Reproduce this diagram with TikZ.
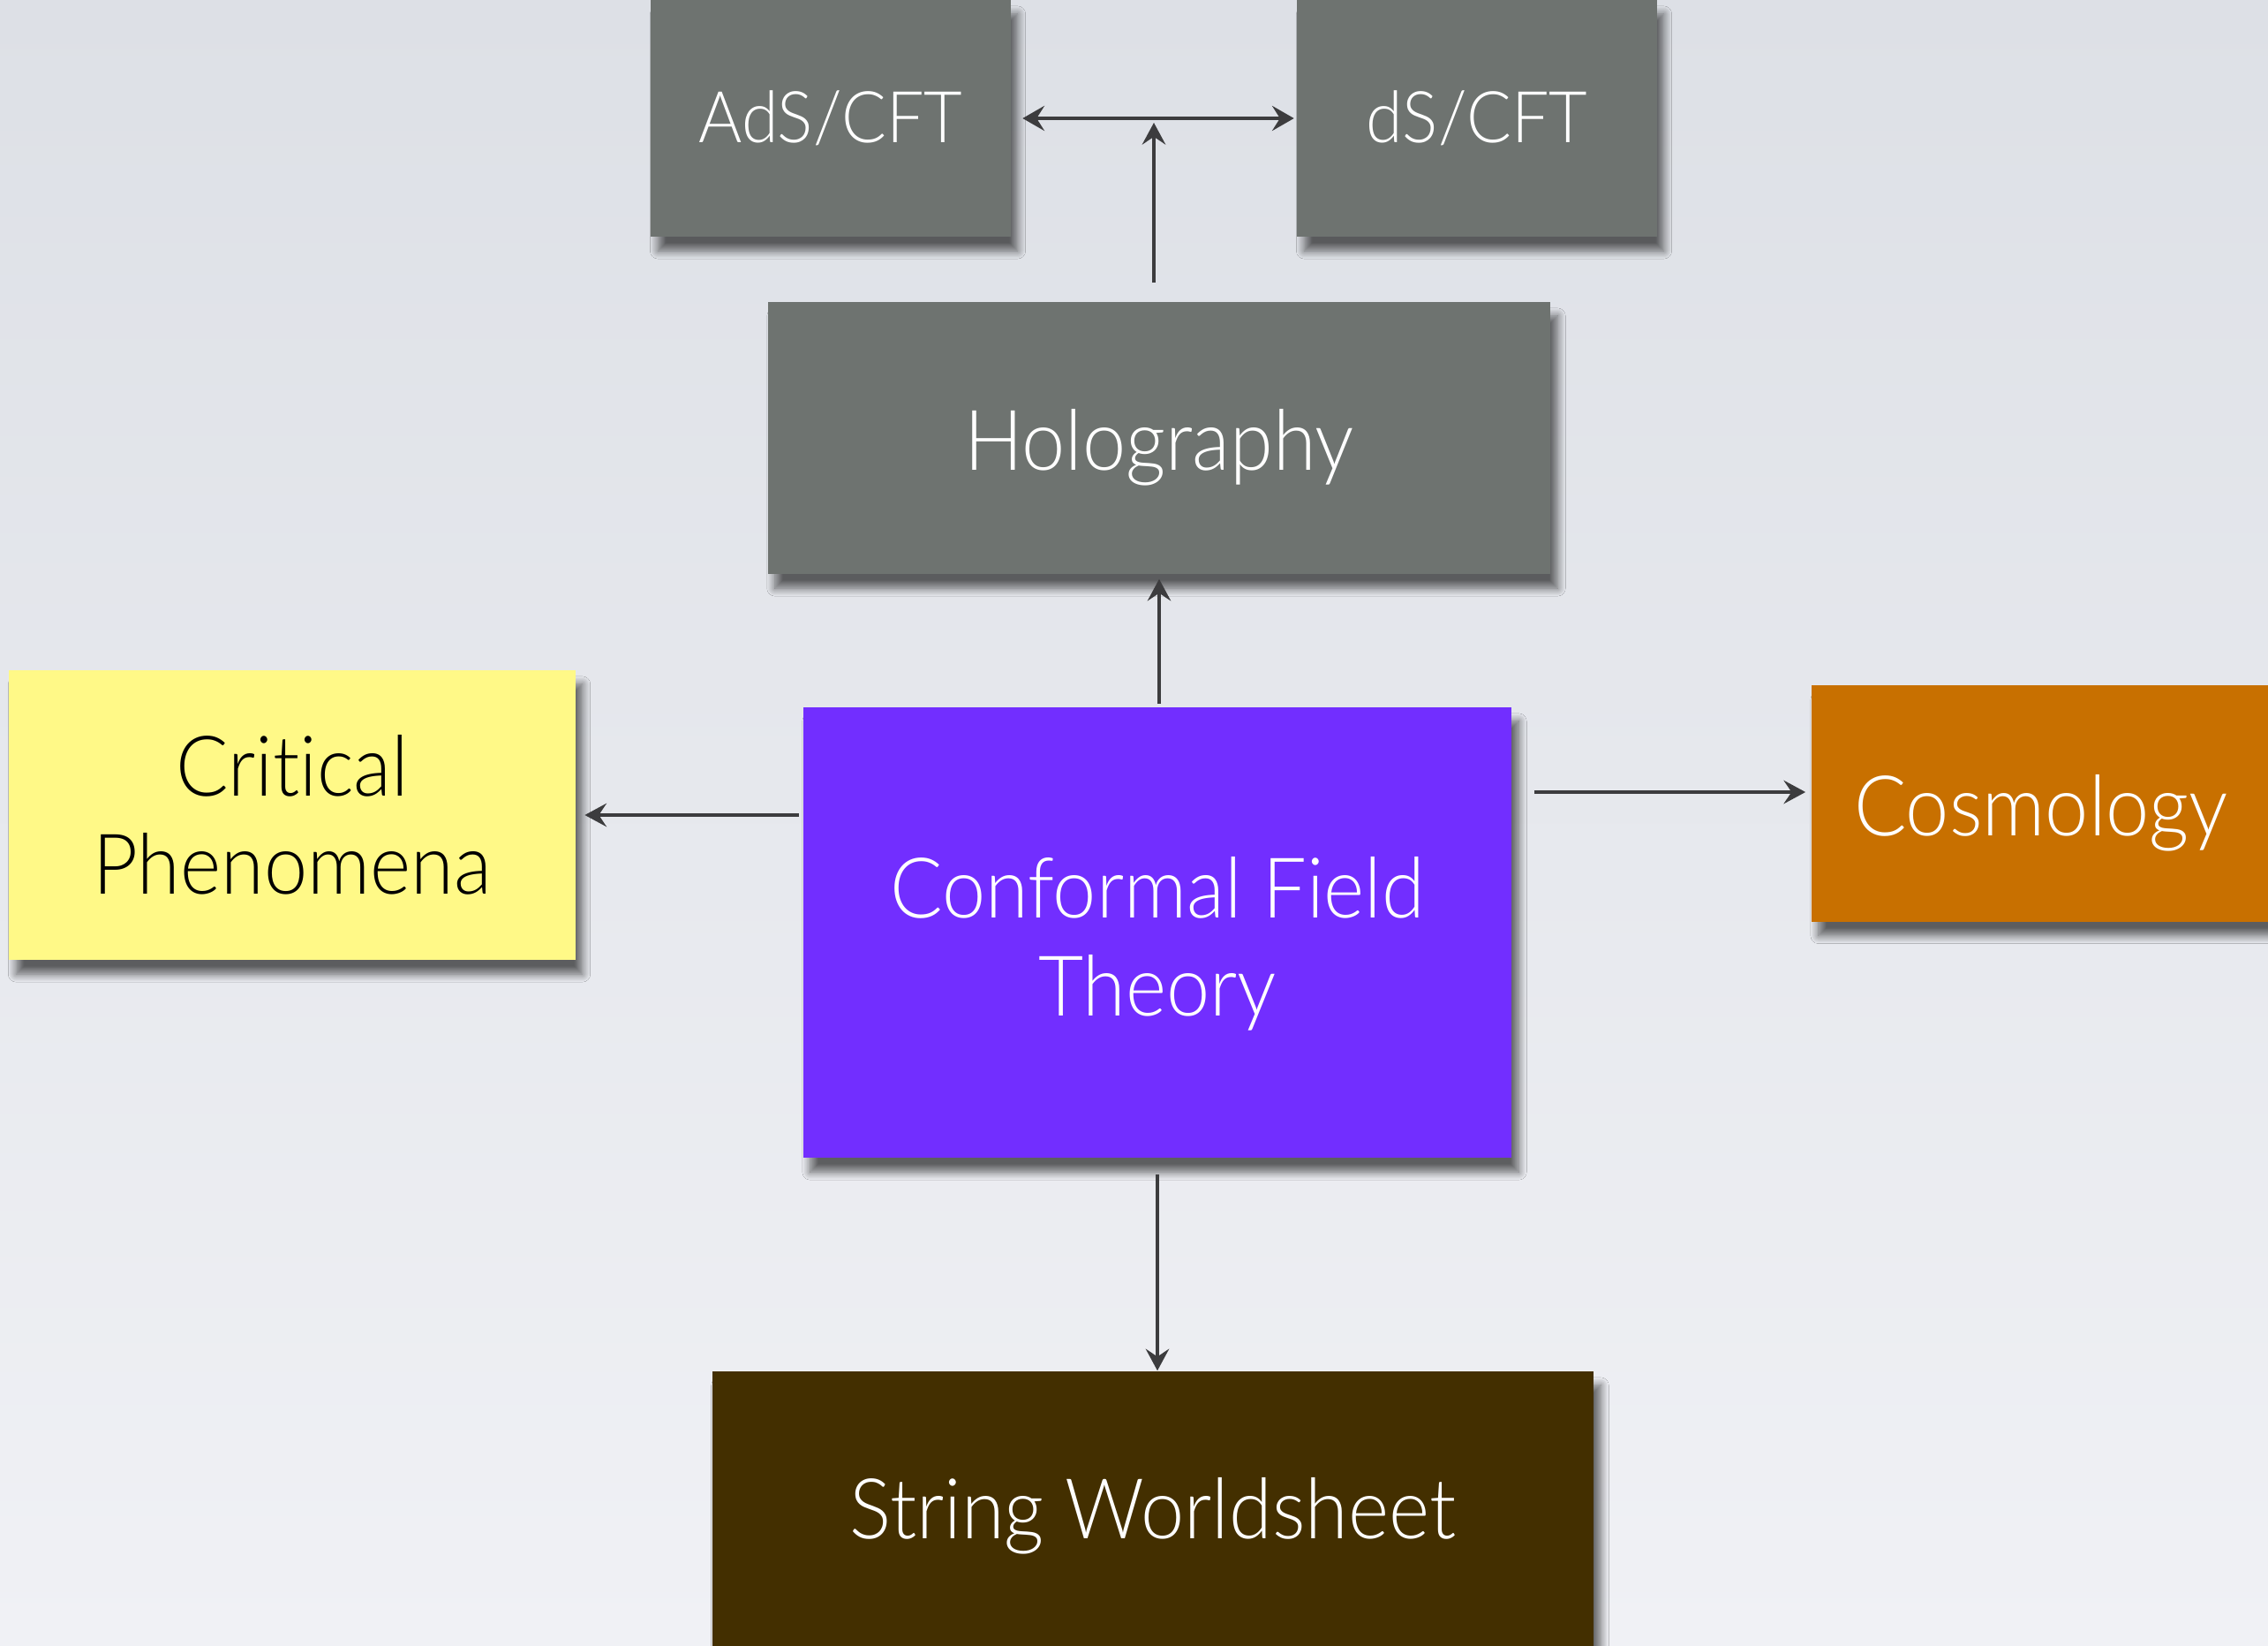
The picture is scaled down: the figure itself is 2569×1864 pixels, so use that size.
\documentclass[tikz,border=0pt]{standalone}
\usepackage{fontspec}
\setmainfont{Lato Light}[FakeStretch=0.93, Ligatures=NoCommon]
\usetikzlibrary{arrows.meta,shadows.blur,calc}

\definecolor{boxgray}{RGB}{110,115,112}
\definecolor{cftpurple}{RGB}{114,46,255}
\definecolor{crityellow}{RGB}{255,249,135}
\definecolor{cosmoorange}{RGB}{200,112,0}
\definecolor{stringbrown}{RGB}{67,47,0}
\definecolor{linkgray}{RGB}{60,60,62}
\definecolor{bgtop}{RGB}{221,224,230}
\definecolor{bgbottom}{RGB}{240,241,245}

% lower a line of text without changing the box size
\newcommand{\sink}[2][0.11cm]{\raisebox{-#1}[\height][\depth]{#2}}

\tikzset{
  topic/.style={rectangle, inner sep=0pt, align=center, text=white,
    font=\fontsize{27}{31.5}\selectfont,
    blur shadow={shadow xshift=0.08cm, shadow yshift=-0.16cm,
      shadow blur radius=0.09cm, shadow blur steps=10, shadow opacity=60}},
  link/.style={draw=linkgray, line width=1.1pt,
    -{Stealth[length=7pt,width=7.5pt,inset=2.5pt]}},
}

\begin{document}
\begin{tikzpicture}[x=0.01cm, y=-0.01cm]
    \useasboundingbox (0,0) rectangle (2569,1864);
    \fill[top color=bgtop, bottom color=bgbottom] (0,0) rectangle (2569,1864);

    % boxes
    \node[topic, fill=boxgray, minimum width=4.07cm, minimum height=2.68cm,
        font=\fontsize{23}{27}\selectfont] (ads) at (941,134) {AdS/CFT};
    \node[topic, fill=boxgray, minimum width=4.07cm, minimum height=2.68cm,
        font=\fontsize{23}{27}\selectfont] (ds) at (1673,134) {dS/CFT};
    \node[topic, fill=boxgray, minimum width=8.86cm, minimum height=3.08cm] (holo) at (1313,496) {\sink{Holography}};
    \node[topic, fill=cftpurple, minimum width=8.02cm, minimum height=5.10cm] (cft) at (1311,1056) {\sink[0.13cm]{Conformal Field}\\\sink[0.13cm]{Theory}};
    \node[topic, fill=crityellow, text=black, minimum width=6.41cm, minimum height=3.28cm] (crit) at (331,923) {Critical\\Phenomena};
    \node[topic, fill=cosmoorange, minimum width=5.60cm, minimum height=2.67cm] (cosmo) at (2332,910) {\hspace*{-0.4cm}\sink{Cosmology}};
    \node[topic, fill=stringbrown, minimum width=9.98cm, minimum height=3.18cm] (string) at (1306,1712) {\sink[0.05cm]{String Worldsheet}};

    % connectors
    \coordinate (bridge) at ($(ads.east)!0.5!(ds.west)$);
    \draw[link, line width=1.4pt, {Stealth[length=7pt,width=8pt,inset=2.5pt]}-{Stealth[length=7pt,width=8pt,inset=2.5pt]},
        shorten <=0.13cm, shorten >=0.03cm] (ads.east) -- (ds.west);
    \draw[link] ([yshift=0.21cm]holo.north -| bridge) -- ([yshift=-0.05cm]bridge);
    \draw[link, shorten >=0.05cm] ([yshift=0.03cm]holo.south |- cft.north) -- (holo.south);
    \draw[link, shorten >=0.1cm] ([xshift=-0.04cm]cft.west |- crit.east) -- (crit.east);
    \draw[link, shorten >=0.06cm] ([xshift=0.25cm, yshift=0.13cm]cft.east |- cosmo.west) -- ([yshift=0.13cm]cosmo.west);
    \draw[link] ([yshift=-0.18cm]cft.south) -- (cft.south |- string.north);
\end{tikzpicture}
\end{document}
